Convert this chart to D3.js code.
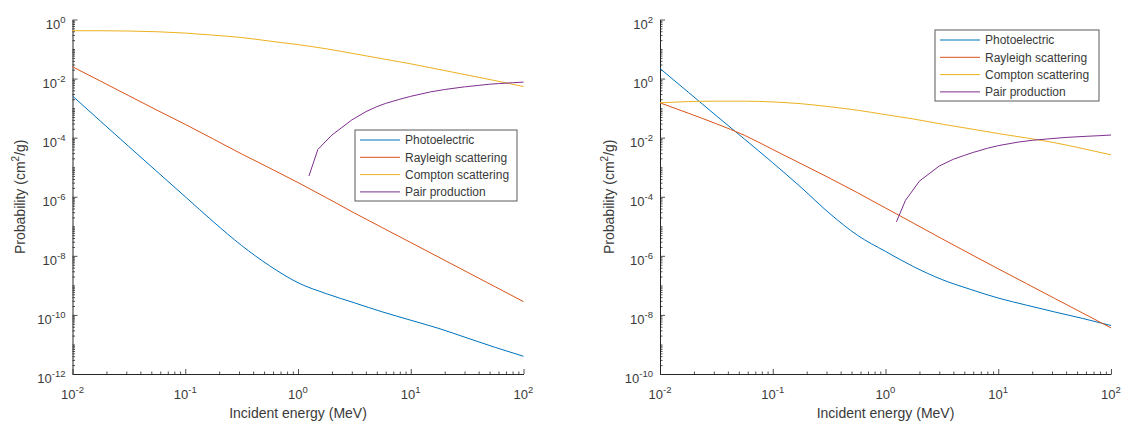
<!DOCTYPE html>
<html><head><meta charset="utf-8">
<script src="https://cdn.jsdelivr.net/npm/d3@7"></script>
<style>
body{margin:0;background:#fff}
svg{display:block}
text{font-family:"Liberation Sans",Arial,Helvetica,sans-serif;fill:#3a3a3a}
</style>
</head><body>
<svg id="c" width="1124" height="423"></svg>
<script>
// ---------- data (energy in MeV, probability in cm^2/g) ----------
const energy = [0.01,0.0178,0.0316,0.0562,0.1,0.178,0.316,0.562,1,1.78,3.16,5.62,10,17.8,31.6,56.2,100];
const pairEnergy = [1.25,1.5,2,3,4,5,6,8,10,15,20,30,40,50,60,80,100];

// left panel
const leftPhotoelectric = [2.57e-3,3.55e-4,5.01e-5,7.08e-6,1.0e-6,1.41e-7,2.24e-8,4.57e-9,1.23e-9,5.25e-10,2.57e-10,1.26e-10,6.61e-11,3.47e-11,1.66e-11,7.94e-12,3.98e-12];
const leftRayleigh = [2.51e-2,8.13e-3,2.63e-3,8.51e-4,2.82e-4,8.91e-5,2.82e-5,9.33e-6,3.02e-6,9.33e-7,2.82e-7,8.91e-8,2.82e-8,8.91e-9,2.82e-9,8.91e-10,2.82e-10];
const leftCompton = [0.417,0.417,0.407,0.385,0.347,0.295,0.245,0.186,0.141,0.102,0.0692,0.0468,0.0316,0.0204,0.0132,8.51e-3,5.37e-3];
const leftPair = [5.01e-6,3.98e-5,1.23e-4,3.98e-4,7.59e-4,1.12e-3,1.45e-3,2.0e-3,2.51e-3,3.55e-3,4.27e-3,5.25e-3,5.89e-3,6.46e-3,6.76e-3,7.24e-3,7.59e-3];

// right panel
const rightPhotoelectric = [2.19,0.347,0.055,8.91e-3,1.41e-3,2.09e-4,2.82e-5,5.01e-6,1.41e-6,4.27e-7,1.58e-7,7.41e-8,3.72e-8,2.14e-8,1.26e-8,7.59e-9,4.37e-9];
const rightRayleigh = [0.151,0.0676,0.0295,0.012,3.98e-3,1.32e-3,4.37e-4,1.38e-4,4.17e-5,1.26e-5,3.8e-6,1.17e-6,3.63e-7,1.15e-7,3.63e-8,1.15e-8,3.63e-9];
const rightCompton = [0.151,0.166,0.172,0.172,0.162,0.141,0.112,0.0851,0.0603,0.0427,0.0288,0.02,0.0138,9.77e-3,6.76e-3,4.27e-3,2.63e-3];
const rightPair = [1.41e-5,7.41e-5,3.39e-4,1.10e-3,1.86e-3,2.51e-3,3.16e-3,4.37e-3,5.37e-3,7.08e-3,8.13e-3,9.33e-3,1.02e-2,1.07e-2,1.11e-2,1.17e-2,1.23e-2];

// ticks / labels
const xTickExps = [-2,-1,0,1,2];
const leftYTickExps = [0,-2,-4,-6,-8,-10,-12];
const rightYTickExps = [2,0,-2,-4,-6,-8,-10];
const seriesNames = ["Photoelectric","Rayleigh scattering","Compton scattering","Pair production"];
const seriesColors = ["#0072BD","#D95319","#EDB120","#7E2F8E"];
const xLabel = "Incident energy (MeV)";

// ---------- drawing ----------
const svg = d3.select("#c");
const axisColor = "#262626";

function minorTicks(lo, hi){ // exponents
  const out=[];
  for(let k=lo;k<hi;k++){ for(let m=2;m<=9;m++) out.push(m*Math.pow(10,k)); }
  return out;
}

function panel(cfg){
  const g = svg.append("g");
  const x = d3.scaleLog().domain([0.01,100]).range([cfg.x0,cfg.x1]);
  const y = d3.scaleLog().domain([Math.pow(10,cfg.yLo),Math.pow(10,cfg.yHi)]).range([cfg.y1,cfg.y0]);

  // x axis: major/minor inward ticks
  const xMaj = xTickExps.map(e=>Math.pow(10,e));
  g.append("g").attr("transform",`translate(0,${cfg.y1})`)
    .call(d3.axisBottom(x).tickValues(xMaj).tickSizeInner(-5).tickSizeOuter(0).tickFormat(""));
  g.append("g").attr("transform",`translate(0,${cfg.y1})`)
    .call(d3.axisBottom(x).tickValues(minorTicks(-2,2)).tickSizeInner(-2.5).tickSizeOuter(0).tickFormat(""))
    .select(".domain").remove();
  // y axis
  const allYExp = d3.range(cfg.yLo, cfg.yHi+1);
  const yMaj = allYExp.filter(e=>cfg.yTicks.includes(e)).map(e=>Math.pow(10,e));
  const yOdd = allYExp.filter(e=>!cfg.yTicks.includes(e)).map(e=>Math.pow(10,e));
  g.append("g").attr("transform",`translate(${cfg.x0},0)`)
    .call(d3.axisLeft(y).tickValues(yMaj).tickSizeInner(-5).tickSizeOuter(0).tickFormat(""));
  g.append("g").attr("transform",`translate(${cfg.x0},0)`)
    .call(d3.axisLeft(y).tickValues(minorTicks(cfg.yLo,cfg.yHi).concat(yOdd)).tickSizeInner(-2.5).tickSizeOuter(0).tickFormat(""))
    .select(".domain").remove();
  g.selectAll(".domain").attr("stroke",axisColor).attr("stroke-width",1);
  g.selectAll(".tick line").attr("stroke",axisColor).attr("stroke-width",0.8);

  // x tick labels
  xTickExps.forEach(e=>{
    const t = g.append("text").attr("x",x(Math.pow(10,e))).attr("y",cfg.y1+25)
      .attr("text-anchor","middle").attr("font-size",13);
    t.append("tspan").text("10");
    t.append("tspan").attr("font-size",9.5).attr("dy",-6).text(e<0?"-"+(-e):String(e));
  });
  // y tick labels
  cfg.yTicks.forEach(e=>{
    const t = g.append("text").attr("x",cfg.x0-7).attr("y",y(Math.pow(10,e))+9)
      .attr("text-anchor","end").attr("font-size",13);
    t.append("tspan").text("10");
    t.append("tspan").attr("font-size",9.5).attr("dy",-6).text(e<0?"-"+(-e):String(e));
  });

  // axis labels
  g.append("text").attr("x",(cfg.x0+cfg.x1)/2).attr("y",418).attr("text-anchor","middle")
    .attr("font-size",14).text(xLabel);
  const yl = g.append("text").attr("transform",`translate(${cfg.ylx},${(cfg.y0+cfg.y1)/2}) rotate(-90)`)
    .attr("text-anchor","middle").attr("font-size",14);
  yl.append("tspan").text("Probability (cm");
  yl.append("tspan").attr("font-size",10).attr("dy",-6).text("2");
  yl.append("tspan").attr("dy",6).text("/g)");

  // lines
  const line = d3.line().x(d=>x(d[0])).y(d=>y(d[1])).curve(d3.curveMonotoneX);
  const lineLin = d3.line().x(d=>x(d[0])).y(d=>y(d[1]));
  const data = [
    d3.zip(energy,cfg.photo), d3.zip(energy,cfg.rayleigh), d3.zip(energy,cfg.compton), d3.zip(pairEnergy,cfg.pair)
  ];
  data.forEach((d,i)=>{
    g.append("path").attr("d",(i===3?lineLin:line)(d)).attr("fill","none")
      .attr("stroke",seriesColors[i]).attr("stroke-width",1);
  });

  // legend
  const L = cfg.legend;
  const lg = g.append("g");
  lg.append("rect").attr("x",L.x).attr("y",L.y).attr("width",L.w).attr("height",L.h)
    .attr("fill","#fff").attr("stroke","#5a5a5a").attr("stroke-width",1);
  seriesNames.forEach((n,i)=>{
    const yy = L.y+10+i*17.3;
    lg.append("line").attr("x1",L.x+5).attr("x2",L.x+45).attr("y1",yy).attr("y2",yy)
      .attr("stroke",seriesColors[i]).attr("stroke-width",1);
    lg.append("text").attr("x",L.x+50).attr("y",yy+4.3).attr("font-size",12).attr("fill","#262626").text(n);
  });
}

panel({x0:72.5,x1:523.5,y0:19.5,y1:374,yLo:-12,yHi:0,yTicks:leftYTickExps,ylx:25,
  photo:leftPhotoelectric,rayleigh:leftRayleigh,compton:leftCompton,pair:leftPair,
  legend:{x:355,y:130,w:162,h:71}});
panel({x0:660,x1:1111,y0:19.5,y1:374,yLo:-10,yHi:2,yTicks:rightYTickExps,ylx:614,
  photo:rightPhotoelectric,rayleigh:rightRayleigh,compton:rightCompton,pair:rightPair,
  legend:{x:935,y:30,w:164,h:71}});
</script>
</body></html>
